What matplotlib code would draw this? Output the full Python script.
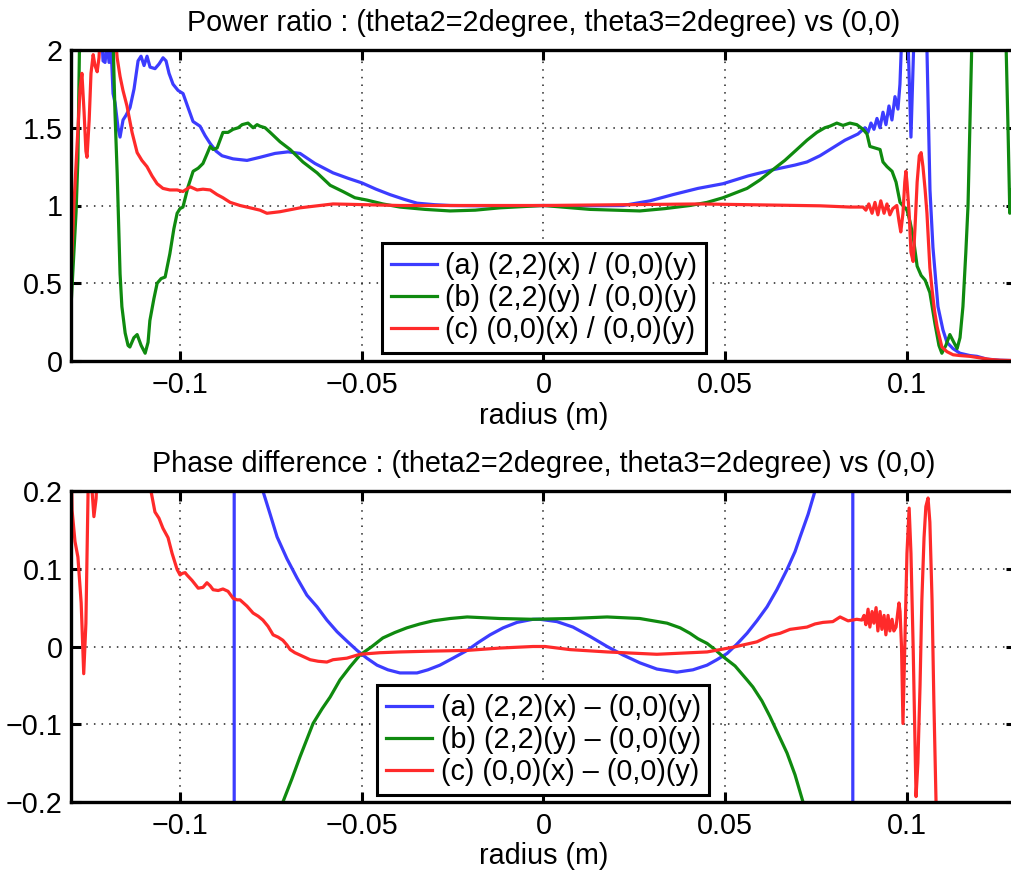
import numpy as np
import matplotlib
matplotlib.use('Agg')
import matplotlib.pyplot as plt

# ---------------- data ----------------
x_ticks = [-0.1, -0.05, 0, 0.05, 0.1]
x_ticklabels = ['\u22120.1', '\u22120.05', '0', '0.05', '0.1']
top_yticks = [0, 0.5, 1, 1.5, 2]
top_yticklabels = ['0', '0.5', '1', '1.5', '2']
bot_yticks = [-0.2, -0.1, 0, 0.1, 0.2]
bot_yticklabels = ['\u22120.2', '\u22120.1', '0', '0.1', '0.2']

top_title = 'Power ratio : (theta2=2degree, theta3=2degree) vs (0,0)'
bot_title = 'Phase difference : (theta2=2degree, theta3=2degree) vs (0,0)'
xlabel = 'radius (m)'
top_labels = ['(a) (2,2)(x) / (0,0)(y)', '(b) (2,2)(y) / (0,0)(y)', '(c) (0,0)(x) / (0,0)(y)']
bot_labels = ['(a) (2,2)(x) \u2013 (0,0)(y)', '(b) (2,2)(y) \u2013 (0,0)(y)', '(c) (0,0)(x) \u2013 (0,0)(y)']

# power ratio (a)
pr_a = [(-0.1300, 1.40), (-0.1298, 2.3), (-0.1220, 2.3), (-0.12118, 1.93), (-0.12063, 1.92), (-0.12008, 2.05),
        (-0.11953, 1.92), (-0.11898, 2.02), (-0.11843, 1.72), (-0.11788, 1.66), (-0.11706, 1.50), (-0.11651, 1.44),
        (-0.11568, 1.55), (-0.11486, 1.58), (-0.11376, 1.63), (-0.11265, 1.75), (-0.11155, 1.93), (-0.11073, 1.96),
        (-0.10990, 1.90), (-0.10908, 1.96), (-0.10825, 1.89), (-0.10688, 1.88), (-0.10578, 1.91), (-0.10468, 1.95),
        (-0.10385, 1.93), (-0.10303, 1.85), (-0.10193, 1.78), (-0.10055, 1.74), (-0.09917, 1.72), (-0.09780, 1.63),
        (-0.09642, 1.54), (-0.09450, 1.51), (-0.09312, 1.45), (-0.09175, 1.40), (-0.09010, 1.35), (-0.08845, 1.32),
        (-0.08542, 1.30), (-0.08157, 1.29), (-0.07799, 1.31), (-0.07387, 1.335), (-0.07029, 1.345), (-0.06699, 1.335),
        (-0.06286, 1.27), (-0.05791, 1.21), (-0.05378, 1.175), (-0.04993, 1.145), (-0.04608, 1.105), (-0.04223, 1.07),
        (-0.03838, 1.04), (-0.03480, 1.015), (-0.02985, 1.005), (-0.02572, 1.0), (-0.01747, 0.998), (-0.00922, 0.998),
        (0.0, 1.0), (0.01004, 0.998), (0.02187, 1.0), (0.02930, 1.03), (0.03563, 1.07), (0.04250, 1.11),
        (0.04938, 1.14), (0.05626, 1.19), (0.06314, 1.23), (0.06919, 1.26), (0.07249, 1.28), (0.07607, 1.32),
        (0.07882, 1.36), (0.08294, 1.42), (0.08652, 1.46), (0.08845, 1.50), (0.08927, 1.47), (0.09010, 1.53),
        (0.09092, 1.49), (0.09175, 1.56), (0.09257, 1.50), (0.09340, 1.60), (0.09422, 1.52), (0.09505, 1.64),
        (0.09587, 1.55), (0.09670, 1.70), (0.09752, 1.62), (0.09807, 1.78), (0.09890, 2.3), (0.10000, 2.3),
        (0.10110, 1.44), (0.10220, 2.3), (0.10523, 2.3), (0.10633, 1.1), (0.10715, 0.73), (0.10853, 0.35),
        (0.10990, 0.20), (0.11100, 0.12), (0.11265, 0.08), (0.11458, 0.05), (0.11733, 0.035), (0.11926, 0.03),
        (0.12201, 0.012), (0.12558, 0.005), (0.12889, 0.003)]

# power ratio (b)
pr_b = [(-0.1300, 0.35), (-0.1292, 0.70), (-0.1286, 0.96), (-0.1281, 1.30), (-0.1275, 2.3), (-0.1187, 2.3),
        (-0.1179, 1.60), (-0.1173, 1.21), (-0.1165, 0.56), (-0.1160, 0.35), (-0.1151, 0.18), (-0.1143, 0.10),
        (-0.1138, 0.09), (-0.1127, 0.15), (-0.1118, 0.17), (-0.1107, 0.10), (-0.1096, 0.05), (-0.1088, 0.12),
        (-0.1083, 0.26), (-0.1072, 0.40), (-0.1063, 0.50), (-0.1052, 0.53), (-0.1041, 0.54), (-0.1028, 0.69),
        (-0.1017, 0.85), (-0.1008, 0.95), (-0.1000, 0.98), (-0.0992, 0.99), (-0.0978, 1.12), (-0.0964, 1.22),
        (-0.0950, 1.24), (-0.0937, 1.27), (-0.0926, 1.33), (-0.0917, 1.38), (-0.0909, 1.36), (-0.0898, 1.37),
        (-0.0882, 1.47), (-0.0868, 1.47), (-0.0854, 1.49), (-0.0840, 1.50), (-0.0829, 1.52), (-0.0813, 1.53),
        (-0.0799, 1.50), (-0.0788, 1.52), (-0.0780, 1.51), (-0.0766, 1.50), (-0.0752, 1.47), (-0.0725, 1.41),
        (-0.0697, 1.36), (-0.0662, 1.28), (-0.0623, 1.21), (-0.0587, 1.13), (-0.0552, 1.09), (-0.0519, 1.05),
        (-0.0486, 1.035), (-0.0442, 1.01), (-0.0395, 0.99), (-0.0326, 0.975), (-0.0257, 0.965), (-0.0188, 0.97),
        (-0.0120, 0.985), (0.0, 1.0), (0.0128, 0.975), (0.0265, 0.965), (0.0334, 0.98), (0.0403, 1.0),
        (0.0450, 1.02), (0.0494, 1.05), (0.0527, 1.08), (0.0560, 1.11), (0.0596, 1.165), (0.0631, 1.23),
        (0.0664, 1.29), (0.0697, 1.36), (0.0725, 1.42), (0.0752, 1.47), (0.0774, 1.50), (0.0788, 1.51),
        (0.0807, 1.53), (0.0824, 1.515), (0.0843, 1.53), (0.0862, 1.52), (0.0879, 1.49), (0.0890, 1.46),
        (0.0898, 1.38), (0.0912, 1.37), (0.0926, 1.36), (0.0934, 1.28), (0.0945, 1.25), (0.0959, 1.22),
        (0.0970, 1.15), (0.0981, 1.02), (0.0992, 0.99), (0.1000, 0.97), (0.1008, 0.90), (0.1017, 0.80),
        (0.1028, 0.61), (0.1039, 0.55), (0.1050, 0.52), (0.1063, 0.44), (0.1077, 0.24), (0.1088, 0.10),
        (0.1096, 0.05), (0.1107, 0.10), (0.1118, 0.17), (0.1129, 0.12), (0.1138, 0.08), (0.1146, 0.15),
        (0.1154, 0.35), (0.1162, 0.70), (0.1168, 1.0), (0.1173, 1.5), (0.1179, 2.1), (0.1187, 2.3),
        (0.1270, 2.3), (0.1278, 1.5), (0.1283, 0.95), (0.1289, 1.1)]

# power ratio (c)
pr_c = [(-0.1300, 0.55), (-0.1292, 1.0), (-0.1283, 1.4), (-0.1275, 1.75), (-0.1270, 1.85), (-0.1264, 1.6),
        (-0.1259, 1.35), (-0.1256, 1.31), (-0.1250, 1.55), (-0.1245, 1.85), (-0.1239, 1.97), (-0.1234, 1.90),
        (-0.1228, 1.86), (-0.1223, 1.95), (-0.1217, 2.2), (-0.1182, 2.2), (-0.1173, 1.95), (-0.1165, 1.83),
        (-0.1157, 1.74), (-0.1146, 1.64), (-0.1132, 1.47), (-0.1118, 1.34), (-0.1105, 1.29), (-0.1091, 1.25),
        (-0.1077, 1.19), (-0.1063, 1.14), (-0.1047, 1.11), (-0.1028, 1.10), (-0.1008, 1.10), (-0.0992, 1.09),
        (-0.0972, 1.12), (-0.0953, 1.10), (-0.0937, 1.105), (-0.0917, 1.10), (-0.0898, 1.07), (-0.0882, 1.05),
        (-0.0862, 1.02), (-0.0835, 1.0), (-0.0807, 0.985), (-0.0780, 0.97), (-0.0761, 0.95), (-0.0725, 0.96),
        (-0.0670, 0.985), (-0.0579, 1.01), (-0.0395, 1.0), (0.0, 1.0), (0.0431, 1.01), (0.0706, 1.0),
        (0.0761, 0.998), (0.0843, 0.99), (0.0879, 0.99), (0.0887, 0.97), (0.0895, 1.01), (0.0904, 0.95),
        (0.0912, 1.02), (0.0920, 0.94), (0.0928, 1.03), (0.0937, 0.95), (0.0945, 1.01), (0.0953, 0.94),
        (0.0961, 0.98), (0.0972, 1.0), (0.0978, 0.90), (0.0983, 0.83), (0.0989, 0.95), (0.0994, 1.15),
        (0.0997, 1.22), (0.1000, 1.15), (0.1006, 0.95), (0.1011, 0.70), (0.1017, 0.64), (0.1022, 0.85),
        (0.1028, 1.15), (0.1034, 1.32), (0.1039, 1.34), (0.1044, 1.25), (0.1050, 1.10), (0.1055, 0.95),
        (0.1063, 0.60), (0.1069, 0.46), (0.1076, 0.32), (0.1083, 0.22), (0.1096, 0.09), (0.1110, 0.06),
        (0.1127, 0.04), (0.1146, 0.035), (0.1173, 0.03), (0.1201, 0.02), (0.1228, 0.01), (0.1256, 0.005),
        (0.1289, 0.003)]

# phase difference (a)
pd_a = [(-0.1300, -0.6), (-0.0851, -1.0), (-0.0851, 1.0), (-0.0813, 0.6), (-0.0788, 0.3), (-0.0772, 0.2),
        (-0.0752, 0.17), (-0.0733, 0.141), (-0.0706, 0.113), (-0.0678, 0.088), (-0.0651, 0.066), (-0.0623, 0.051),
        (-0.0596, 0.034), (-0.0568, 0.019), (-0.0541, 0.007), (-0.0513, -0.005), (-0.0486, -0.015),
        (-0.0458, -0.024), (-0.0428, -0.030), (-0.0395, -0.034), (-0.0348, -0.034), (-0.0318, -0.030),
        (-0.0285, -0.024), (-0.0249, -0.015), (-0.0210, -0.005), (-0.0180, 0.005), (-0.0147, 0.015),
        (-0.0111, 0.024), (-0.0073, 0.031), (-0.0029, 0.035), (-0.0010, 0.035), (0.0037, 0.032), (0.0081, 0.025),
        (0.0128, 0.013), (0.0175, 0.0), (0.0219, -0.011), (0.0265, -0.021), (0.0312, -0.029), (0.0367, -0.033),
        (0.0411, -0.030), (0.0450, -0.024), (0.0477, -0.017), (0.0505, -0.009), (0.0532, 0.003), (0.0560, 0.017),
        (0.0587, 0.033), (0.0615, 0.051), (0.0642, 0.073), (0.0670, 0.099), (0.0692, 0.122), (0.0706, 0.141),
        (0.0728, 0.17), (0.0747, 0.2), (0.0774, 0.3), (0.0810, 0.6), (0.0851, 1.0), (0.0851, -1.0),
        (0.1289, -0.6)]

# phase difference (b)
pd_b = [(-0.1300, -3.0), (-0.0807, -0.45), (-0.0717, -0.2), (-0.0692, -0.17), (-0.0670, -0.142),
        (-0.0634, -0.099), (-0.0609, -0.08), (-0.0587, -0.065), (-0.0560, -0.043), (-0.0532, -0.026),
        (-0.0505, -0.011), (-0.0472, 0.0), (-0.0442, 0.011), (-0.0409, 0.018), (-0.0376, 0.024), (-0.0340, 0.029),
        (-0.0304, 0.033), (-0.0257, 0.036), (-0.0210, 0.038), (-0.0120, 0.036), (-0.0029, 0.035), (0.0073, 0.036),
        (0.0175, 0.038), (0.0265, 0.036), (0.0340, 0.030), (0.0376, 0.024), (0.0403, 0.017), (0.0425, 0.010),
        (0.0450, 0.004), (0.0472, -0.004), (0.0494, -0.013), (0.0527, -0.025), (0.0560, -0.043), (0.0576, -0.052),
        (0.0601, -0.07), (0.0623, -0.090), (0.0645, -0.112), (0.0670, -0.137), (0.0692, -0.165), (0.0714, -0.2),
        (0.0788, -0.45), (0.1289, -3.0)]

# phase difference (c)
pd_c = [(-0.1300, 0.25), (-0.1297, 0.175), (-0.1289, 0.135), (-0.1281, 0.115), (-0.1272, 0.056),
        (-0.1265, -0.035), (-0.1259, 0.03), (-0.1253, 0.2), (-0.1248, 0.23), (-0.1242, 0.2), (-0.1237, 0.167),
        (-0.1231, 0.19), (-0.1226, 0.25), (-0.1193, 0.35), (-0.1096, 0.25), (-0.1080, 0.2), (-0.1069, 0.173),
        (-0.1058, 0.165), (-0.1047, 0.152), (-0.1033, 0.14), (-0.1022, 0.12), (-0.1008, 0.099), (-0.1000, 0.092),
        (-0.0994, 0.094), (-0.0986, 0.095), (-0.0981, 0.092), (-0.0967, 0.085), (-0.0950, 0.075), (-0.0937, 0.076),
        (-0.0926, 0.082), (-0.0917, 0.078), (-0.0909, 0.073), (-0.0895, 0.072), (-0.0882, 0.074), (-0.0868, 0.071),
        (-0.0854, 0.062), (-0.0843, 0.06), (-0.0835, 0.06), (-0.0816, 0.052), (-0.0799, 0.043), (-0.0785, 0.039),
        (-0.0772, 0.034), (-0.0758, 0.026), (-0.0744, 0.015), (-0.0730, 0.012), (-0.0717, 0.008), (-0.0706, 0.002),
        (-0.0697, -0.004), (-0.0684, -0.008), (-0.0670, -0.011), (-0.0656, -0.014), (-0.0642, -0.017),
        (-0.0620, -0.019), (-0.0596, -0.02), (-0.0579, -0.017), (-0.0560, -0.016), (-0.0541, -0.015),
        (-0.0505, -0.01), (-0.0450, -0.008), (-0.0395, -0.007), (-0.0312, -0.006), (-0.0210, -0.005),
        (-0.0120, -0.002), (-0.0029, 0.0), (0.0004, 0.0), (0.0073, -0.004), (0.0175, -0.007), (0.0312, -0.01),
        (0.0450, -0.007), (0.0521, -0.001), (0.0587, 0.006), (0.0623, 0.014), (0.0651, 0.017), (0.0678, 0.022),
        (0.0725, 0.025), (0.0747, 0.029), (0.0769, 0.031), (0.0796, 0.032), (0.0816, 0.038), (0.0838, 0.033),
        (0.0862, 0.035), (0.0876, 0.034), (0.0882, 0.04), (0.0887, 0.028), (0.0893, 0.048), (0.0898, 0.025),
        (0.0904, 0.045), (0.0909, 0.03), (0.0915, 0.05), (0.0920, 0.02), (0.0926, 0.045), (0.0931, 0.022),
        (0.0937, 0.04), (0.0942, 0.015), (0.0948, 0.04), (0.0953, 0.02), (0.0959, 0.035), (0.0964, 0.02),
        (0.0970, 0.025), (0.0975, 0.045), (0.0978, 0.056), (0.0981, 0.045), (0.0985, 0.0), (0.0989, -0.099),
        (0.0994, 0.0), (0.1000, 0.12), (0.1006, 0.178), (0.1011, 0.12), (0.1017, 0.0), (0.1025, -0.193),
        (0.1030, -0.15), (0.1036, -0.05), (0.1041, 0.06), (0.1047, 0.14), (0.1052, 0.18), (0.1058, 0.191),
        (0.1063, 0.16), (0.1069, 0.06), (0.1074, -0.07), (0.1080, -0.2), (0.1085, -0.35), (0.1289, -0.5)]

# ---------------- style ----------------
plt.rcParams['font.family'] = ['Liberation Sans', 'DejaVu Sans']
FS = 20.7
colors = ['#3c3cff', '#0f8a0f', '#ff2a2a']
LW = 2.3

W, H = 1012, 874
fig = plt.figure(figsize=(W / 100, H / 100), dpi=100)
ax1 = fig.add_axes([71 / W, 1 - 361 / H, 945 / W, 311 / H])
ax2 = fig.add_axes([71 / W, 1 - 802 / H, 945 / W, 311 / H])


def style(ax, ylim, yticks, yticklabels, title):
    ax.set_xlim(-0.13, 0.13)
    ax.set_ylim(*ylim)
    ax.set_xticks(x_ticks)
    ax.set_xticklabels(x_ticklabels)
    ax.set_yticks(yticks)
    ax.set_yticklabels(yticklabels)
    ax.tick_params(direction='in', length=7, width=2.2, top=True, right=True,
                   labelsize=FS, colors='k')
    ax.tick_params(axis='x', pad=7)
    ax.tick_params(axis='y', pad=6)
    for s in ax.spines.values():
        s.set_linewidth(2.4)
        s.set_zorder(5)
    ax.grid(True, color='#222222', linestyle=(0, (1, 4)), linewidth=1.1)
    ax.set_axisbelow(True)
    ax.set_title(title, fontsize=FS, pad=14)
    ax.set_xlabel(xlabel, fontsize=FS, labelpad=2)


def draw(ax, series, labels):
    handles = []
    for data, c, lab in zip(series, colors, labels):
        arr = np.array(data)
        h, = ax.plot(arr[:, 0], arr[:, 1], color=c, lw=LW, label=lab, solid_joinstyle='round')
        handles.append(h)
    return handles


draw(ax1, [pr_a, pr_b, pr_c], top_labels)
style(ax1, (0, 2), top_yticks, top_yticklabels, top_title)
draw(ax2, [pd_a, pd_b, pd_c], bot_labels)
style(ax2, (-0.2, 0.2), bot_yticks, bot_yticklabels, bot_title)

for ax, cx, by in [(ax1, 544, 353), (ax2, 543.5, 795)]:
    leg = ax.legend(loc='lower center', bbox_to_anchor=(cx / W, 1 - by / H),
                    bbox_transform=fig.transFigure, fontsize=FS, frameon=True,
                    fancybox=False, edgecolor='k', framealpha=1, borderaxespad=0,
                    handlelength=1.6, handletextpad=0.3, labelspacing=0.15, borderpad=0.3)
    leg.get_frame().set_linewidth(2.2)
    leg.set_zorder(10)

fig.savefig('out.png', dpi=100)
